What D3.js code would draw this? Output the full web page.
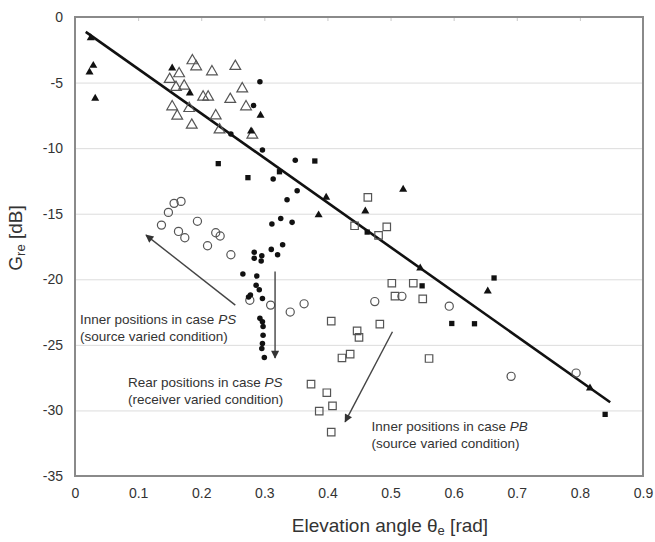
<!DOCTYPE html>
<html>
<head>
<meta charset="utf-8">
<script src="https://cdn.jsdelivr.net/npm/d3@7"></script>
<style>
  body { margin: 0; background: #fff; }
  svg { font-family: "Liberation Sans", Arial, sans-serif; }
</style>
</head>
<body>
<div id="plot"></div>
<script>
// data: [elevation angle (rad), Gre (dB)]
const triFilled = [
  [0.025,-1.6],[0.029,-3.7],[0.023,-4.2],[0.032,-6.2],[0.154,-3.9],[0.182,-5.8],
  [0.294,-7.5],[0.279,-8.7],[0.398,-13.75],[0.520,-13.15],[0.386,-15.1],[0.460,-14.8],
  [0.547,-19.15],[0.654,-20.9],[0.816,-28.3]
];
const triOpen = [
  [0.186,-3.33],[0.192,-3.79],[0.165,-4.32],[0.217,-4.17],[0.254,-3.76],[0.150,-4.75],
  [0.160,-5.36],[0.173,-5.26],[0.203,-6.1],[0.211,-6.1],[0.265,-5.47],[0.246,-6.28],
  [0.154,-6.84],[0.181,-6.97],[0.271,-6.84],[0.162,-7.55],[0.185,-8.24],[0.223,-7.53],
  [0.229,-8.6],[0.281,-9.0]
];
const dotFilled = [
  [0.293,-4.93],[0.283,-6.74],[0.247,-8.92],[0.297,-10.15],[0.349,-10.93],[0.314,-12.35],
  [0.352,-13.25],[0.336,-13.93],[0.326,-15.36],[0.312,-15.79],[0.344,-15.66],[0.329,-17.37],
  [0.311,-17.72],[0.321,-18.13],[0.284,-17.93],[0.284,-18.4],[0.296,-18.2],[0.295,-18.6],
  [0.266,-19.6],[0.288,-19.75],[0.287,-20.45],[0.292,-20.8],[0.278,-21.2],[0.275,-21.35],
  [0.297,-21.46],[0.293,-22.98],[0.297,-23.24],[0.298,-23.6],[0.298,-24.26],[0.297,-24.9],
  [0.296,-25.27],[0.300,-25.96]
];
const dotOpen = [
  [0.137,-15.87],[0.148,-14.9],[0.157,-14.21],[0.168,-14.06],[0.164,-16.35],[0.174,-16.83],
  [0.194,-15.58],[0.210,-17.44],[0.223,-16.45],[0.230,-16.7],[0.247,-18.13],[0.277,-21.6],
  [0.310,-21.97],[0.341,-22.5],[0.363,-21.87],[0.475,-21.7],[0.518,-21.3],[0.593,-22.05],
  [0.691,-27.4],[0.794,-27.15]
];
const sqFilled = [
  [0.227,-11.18],[0.274,-12.25],[0.324,-11.8],[0.380,-10.98],[0.463,-16.4],[0.550,-20.5],
  [0.597,-23.37],[0.633,-23.39],[0.664,-19.9],[0.840,-30.3]
];
const sqOpen = [
  [0.464,-13.75],[0.443,-15.92],[0.481,-16.65],[0.494,-16.0],[0.502,-20.3],[0.536,-20.3],
  [0.507,-21.28],[0.551,-21.5],[0.406,-23.19],[0.483,-23.42],[0.447,-23.93],[0.450,-24.43],
  [0.436,-25.7],[0.423,-26.0],[0.561,-26.04],[0.374,-28.0],[0.399,-28.65],[0.408,-29.65],
  [0.387,-30.05],[0.406,-31.65]
];
// fitted regression line end points
const fitLine = [[0.017,-1.13],[0.848,-29.38]];

const xTicks = [0,0.1,0.2,0.3,0.4,0.5,0.6,0.7,0.8,0.9];
const yTicks = [0,-5,-10,-15,-20,-25,-30,-35];

// annotation arrows [from, to] and texts in data units
const arrows = [
  [[0.254,-21.97],[0.1125,-16.63]],
  [[0.317,-19.4],[0.317,-26.0]],
  [[0.503,-24.0],[0.428,-30.87]]
];
const notes = [
  {x:0.008, y:-23.4, lines:[["Inner positions in case ","PS"],["(source varied condition)"]]},
  {x:0.084, y:-28.2, lines:[["Rear positions in case ","PS"],["(receiver varied condition)"]]},
  {x:0.470, y:-31.6, lines:[["Inner positions in case ","PB"],["(source varied condition)"]]}
];

const [W, H] = [655, 542];
const svg = d3.select('#plot').append('svg').attr('width', W).attr('height', H);

const xsc = d3.scaleLinear().domain([0,0.9]).range([75,643]);
const ysc = d3.scaleLinear().domain([-35,0]).range([476,17]);

// gridlines
svg.append('g')
   .attr('transform', `translate(${xsc(0)},0)`)
   .call(d3.axisLeft(ysc).tickValues(yTicks).tickSize(-(xsc(0.9)-xsc(0))).tickFormat(''))
   .call(g => g.select('.domain').remove())
   .call(g => g.selectAll('line').attr('stroke','#dcdcdc').attr('stroke-width',1));

// little ticks along the top edge
svg.append('g')
   .attr('transform', `translate(0,${ysc(0)})`)
   .call(d3.axisBottom(xsc).tickValues(xTicks.slice(1,-1)).tickSize(4).tickFormat(''))
   .call(g => g.select('.domain').remove())
   .call(g => g.selectAll('line').attr('stroke','#c8c8c8'));

// y tick labels (plain hyphen like the original)
svg.append('g')
   .attr('transform', `translate(${xsc(0)},0)`)
   .call(d3.axisLeft(ysc).tickValues(yTicks).tickSize(0).tickPadding(12).tickFormat(d => String(d)))
   .call(g => g.select('.domain').remove())
   .call(g => g.selectAll('text').attr('font-size',14).attr('fill','#333')
                .attr('font-family','"Liberation Sans", Arial, sans-serif'));

// x tick labels
svg.append('g')
   .attr('transform', `translate(0,${ysc(-35)})`)
   .call(d3.axisBottom(xsc).tickValues(xTicks).tickSize(0).tickPadding(12).tickFormat(d => d === 0 ? '0' : d3.format('.1f')(d)))
   .call(g => g.select('.domain').remove())
   .call(g => g.selectAll('text').attr('font-size',14).attr('fill','#333')
                .attr('font-family','"Liberation Sans", Arial, sans-serif'));

// frame
svg.append('rect')
   .attr('x', xsc(0)).attr('y', ysc(0))
   .attr('width', xsc(0.9)-xsc(0)).attr('height', ysc(-35)-ysc(0))
   .attr('fill','none').attr('stroke','#8a8a8a').attr('stroke-width',2);

// axis titles
let xt = svg.append('text')
   .attr('x', 390).attr('y', 532).attr('text-anchor','middle')
   .attr('font-size',19).attr('fill','#333');
xt.append('tspan').text('Elevation angle θ');
xt.append('tspan').text('e').attr('font-size',13).attr('dy',3);
xt.append('tspan').text(' [rad]').attr('dy',-3);

let yt = svg.append('text')
   .attr('transform','translate(22,238) rotate(-90)').attr('text-anchor','middle')
   .attr('font-size',19).attr('fill','#333');
yt.append('tspan').text('G');
yt.append('tspan').text('re').attr('font-size',13).attr('dy',3);
yt.append('tspan').text(' [dB]').attr('dy',-3);

// regression line
svg.append('line')
   .attr('x1', xsc(fitLine[0][0])).attr('y1', ysc(fitLine[0][1]))
   .attr('x2', xsc(fitLine[1][0])).attr('y2', ysc(fitLine[1][1]))
   .attr('stroke','#111').attr('stroke-width',2.6);

// markers
function plotSet(data, type, size, filled){
  svg.append('g').selectAll('path')
     .data(data)
     .join('path')
       .attr('d', d3.symbol().type(type).size(size))
       .attr('transform', d => `translate(${xsc(d[0])},${ysc(d[1])})`)
       .attr('fill', filled ? '#111' : 'none')
       .attr('stroke', filled ? 'none' : '#555')
       .attr('stroke-width', 1.2);
}
plotSet(triOpen, d3.symbolTriangle, 50, false);
plotSet(dotOpen, d3.symbolCircle, 52, false);
plotSet(sqOpen, d3.symbolSquare, 56, false);
plotSet(triFilled, d3.symbolTriangle, 28, true);
plotSet(dotFilled, d3.symbolCircle, 24, true);
plotSet(sqFilled, d3.symbolSquare, 28, true);

// arrows
svg.append('defs').append('marker')
   .attr('id','head').attr('viewBox','0 0 10 10')
   .attr('refX',9).attr('refY',5)
   .attr('markerWidth',10).attr('markerHeight',8)
   .attr('markerUnits','userSpaceOnUse')
   .attr('orient','auto')
   .append('path').attr('d','M0,0 L10,5 L0,10 z').attr('fill','#333');

svg.append('g').selectAll('line')
   .data(arrows)
   .join('line')
     .attr('x1', d => xsc(d[0][0])).attr('y1', d => ysc(d[0][1]))
     .attr('x2', d => xsc(d[1][0])).attr('y2', d => ysc(d[1][1]))
     .attr('stroke','#444').attr('stroke-width',1.4)
     .attr('marker-end','url(#head)');

// annotation texts
notes.forEach(n => {
  let t = svg.append('text')
     .attr('x', xsc(n.x)).attr('y', ysc(n.y))
     .attr('font-size',13.5).attr('fill','#333');
  n.lines.forEach((ln, i) => {
    t.append('tspan').attr('x', xsc(n.x)).attr('dy', i === 0 ? 0 : 17).text(ln[0]);
    if (ln[1]) t.append('tspan').attr('font-style','italic').text(ln[1]);
  });
});
</script>
</body>
</html>
